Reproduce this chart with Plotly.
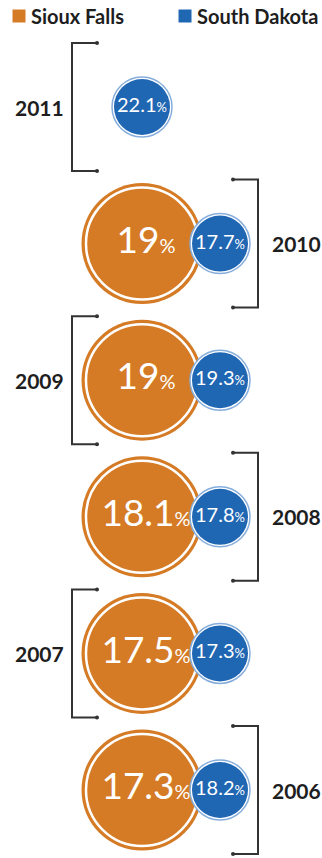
import plotly.graph_objects as go

# Values by year (percent)
years = [2011, 2010, 2009, 2008, 2007, 2006]
sioux_falls = [None, 19, 19, 18.1, 17.5, 17.3]
south_dakota = [22.1, 17.7, 19.3, 17.8, 17.3, 18.2]
series_names = ["Sioux Falls", "South Dakota"]

ORANGE = "#D57B25"
BLUE = "#1F66B3"
BLUE_EDGE = "#86AEDC"
INK = "#1E1E1E"
FONT = "Lato"

W, H = 322, 858
ROW0, ROW_STEP = 107, 136.6          # pixel centre of the first row and row pitch
rows = list(range(len(years)))
y_range = [(H - ROW0) / ROW_STEP, -ROW0 / ROW_STEP]
px = 1 / ROW_STEP                    # one pixel in row units

X_SF, X_SD = 142, 220


def pct_label(v, small):
    return f"{v:g}<span style='font-size:{small}px'>%</span>"


fig = go.Figure()

# Sioux Falls: large orange discs with an inner white ring
sf_rows = [r for r, v in zip(rows, sioux_falls) if v is not None]
sf_vals = [v for v in sioux_falls if v is not None]
fig.add_trace(go.Scatter(
    x=[X_SF] * len(sf_rows), y=sf_rows, mode="markers",
    marker=dict(size=121, color=ORANGE, line=dict(width=0)),
    hoverinfo="skip", showlegend=False))
fig.add_trace(go.Scatter(
    x=[X_SF + 4] * len(sf_rows), y=sf_rows, mode="text",
    text=[pct_label(v, 20) for v in sf_vals],
    textposition="middle center",
    textfont=dict(family=FONT, size=37, color="white"),
    hoverinfo="skip", showlegend=False))
fig.add_trace(go.Scatter(
    x=[X_SF] * len(sf_rows), y=sf_rows, mode="markers",
    marker=dict(size=112, color="rgba(0,0,0,0)", line=dict(width=2.5, color="white")),
    hoverinfo="skip", showlegend=False))

# South Dakota: smaller blue discs; centred in the row when there is no orange disc
sd_x = [X_SD if sf is not None else X_SF for sf in sioux_falls]
fig.add_trace(go.Scatter(
    x=sd_x, y=rows, mode="markers",
    marker=dict(size=60, color="white", line=dict(width=1.5, color=BLUE_EDGE)),
    hoverinfo="skip", showlegend=False))
fig.add_trace(go.Scatter(
    x=sd_x, y=rows, mode="markers+text",
    marker=dict(size=56, color=BLUE, line=dict(width=0)),
    text=[pct_label(v, 13) for v in south_dakota],
    textposition="middle center",
    textfont=dict(family=FONT, size=20, color="white"),
    hoverinfo="skip", showlegend=False))

# Year brackets, alternating left / right
bx, by, dx, dy = [], [], [], []
half = 64 * px
annotations = []
for r, yr in zip(rows, years):
    if r % 2 == 0:
        spine, tip, lx, anchor = 72, 97, 66, "right"
    else:
        spine, tip, lx, anchor = 258, 233, 270, "left"
    bx += [tip, spine, spine, tip, None]
    by += [r - half, r - half, r + half, r + half, None]
    dx += [tip, tip]
    dy += [r - half, r + half]
    annotations.append(dict(
        x=lx, y=r, xref="x", yref="y", text=str(yr), showarrow=False,
        xanchor=anchor, yanchor="middle",
        font=dict(family=FONT, size=21, color=INK, weight="bold")))

fig.add_trace(go.Scatter(
    x=bx, y=by, mode="lines", line=dict(color="#333333", width=2),
    hoverinfo="skip", showlegend=False))
fig.add_trace(go.Scatter(
    x=dx, y=dy, mode="markers", marker=dict(size=4, color="#333333"),
    hoverinfo="skip", showlegend=False))

# Key
key_y = (16 - ROW0) * px
fig.add_trace(go.Scatter(
    x=[19, 185], y=[key_y, key_y], mode="markers",
    marker=dict(symbol="square", size=13, color=[ORANGE, BLUE], line=dict(width=0)),
    hoverinfo="skip", showlegend=False))
for x0, name in zip([29, 195], series_names):
    annotations.append(dict(
        x=x0, y=key_y, xref="x", yref="y", text=name, showarrow=False,
        xanchor="left", yanchor="middle",
        font=dict(family=FONT, size=20, color=INK, weight="bold")))

fig.update_layout(
    width=W, height=H,
    margin=dict(l=0, r=0, t=0, b=0),
    paper_bgcolor="white", plot_bgcolor="white",
    xaxis=dict(range=[0, W], visible=False, fixedrange=True),
    yaxis=dict(range=y_range, visible=False, fixedrange=True),
    annotations=annotations,
    showlegend=False,
)

fig.write_html("out.html", config=dict(displayModeBar=False))
